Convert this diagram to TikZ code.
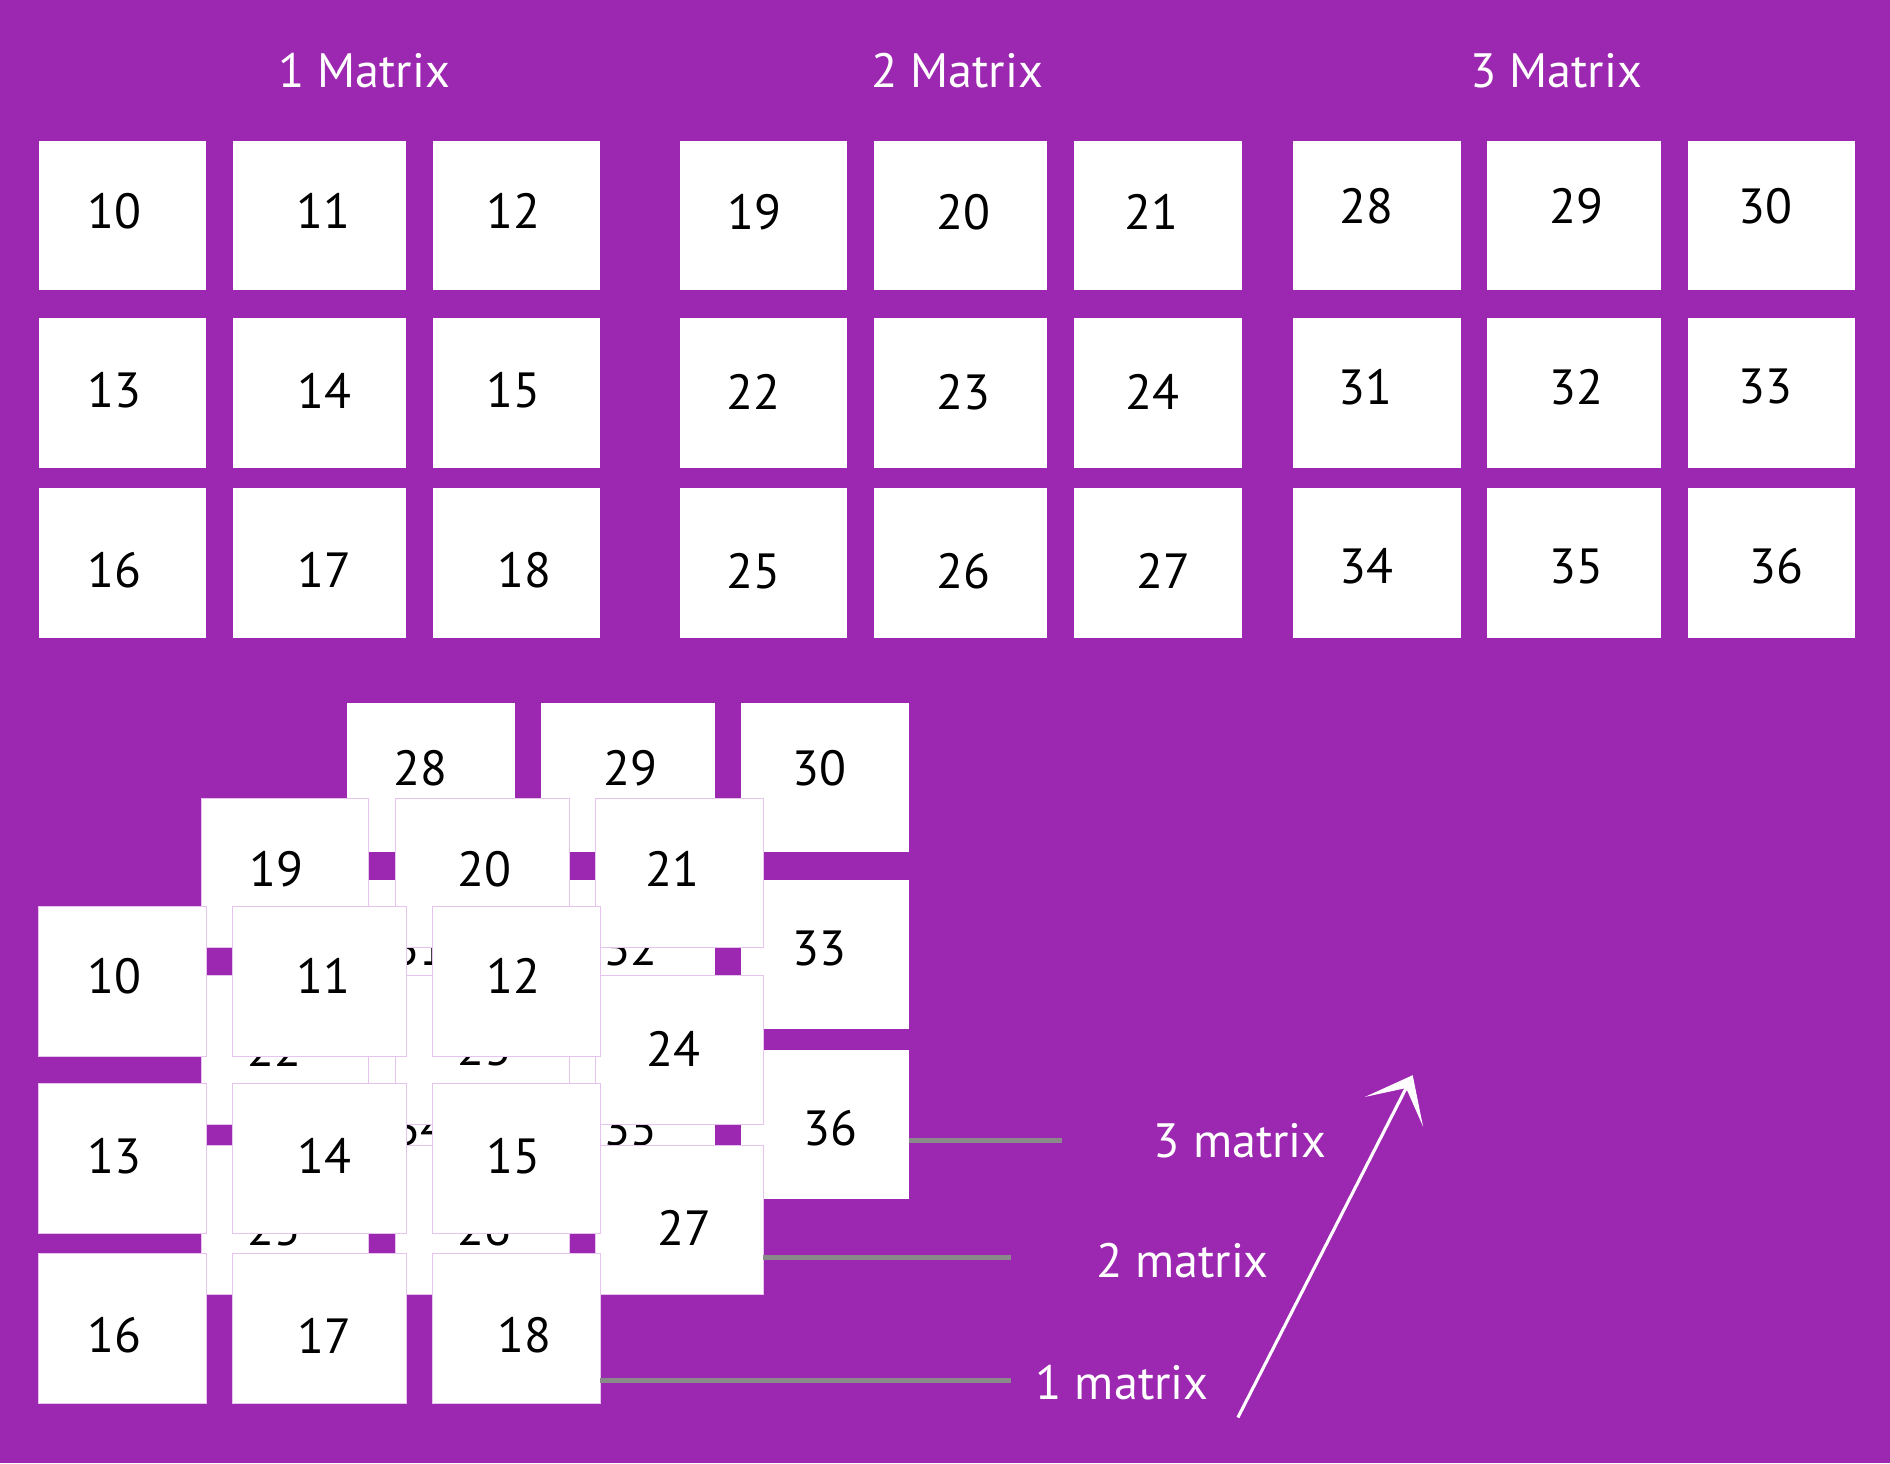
\documentclass[tikz,border=0pt]{standalone}
\usepackage{fontspec}
\setmainfont{PT Sans}
\usetikzlibrary{arrows.meta}
\definecolor{bgpurple}{HTML}{9C27B0}
\definecolor{edgepink}{HTML}{E6C4EE}
\definecolor{linegray}{HTML}{8A8A8A}
\tikzset{
  plainbox/.style={fill=white, draw=none, inner sep=0pt, outer sep=0pt, rectangle},
  edgebox/.style={fill=white, draw=edgepink, line width=0.6pt, inner sep=0pt, outer sep=0pt, rectangle},
  numtext/.style={text=black, inner sep=0pt, font=\fontsize{41}{41}\selectfont},
  titletext/.style={text=white, inner sep=0pt, font=\fontsize{40}{40}\selectfont},
  grayline/.style={draw=linegray, line width=4pt},
}
\newcommand{\matgrid}[5]{%
  \foreach \num/\dx/\dy [count=\i from 0] in #5 {
    \pgfmathtruncatemacro{\rr}{\i/3}
    \pgfmathtruncatemacro{\cc}{mod(\i,3)}
    \pgfmathsetmacro{\bx}{{0,161,327}[\cc]}
    \pgfmathsetmacro{\bw}{{139,144,139}[\cc]}
    \pgfmathsetmacro{\by}{{0,147,288}[\rr]}
    \node[#4, minimum width=\bw pt, minimum height=124pt, anchor=north west] (#1box\num) at (#2+\bx, #3+\by) {};
    \node[numtext] (#1num\num) at (#2+\dx, #3+\dy) {\num};
  }%
}
\def\gonelist{10/63/58,11/236/58,12/394/58,13/63/207,14/237/207,15/394/207,16/63/356,17/237/356,18/403/356}
\def\gtwolist{19/62/59,20/235/59,21/391/59,22/61/208,23/235/208,24/392/208,25/61/357,26/235/357,27/401/357}
\def\gthreelist{28/61/54,29/235/54,30/392/54,31/60/204,32/235/204,33/392/204,34/61/353,35/235/353,36/401/353}
\begin{document}
\begin{tikzpicture}[x=1pt, y=-1pt]
  \fill[bgpurple] (0,0) rectangle (1568,1214);
  \useasboundingbox (0,0) rectangle (1568,1214);
  % titles
  \node[titletext] (t1) at (302,59) {1 Matrix};
  \node[titletext] (t2) at (794,59) {2 Matrix};
  \node[titletext] (t3) at (1291,59) {3 Matrix};
  % top grids
  \matgrid{ga}{32}{117}{plainbox}{\gonelist}
  \matgrid{gb}{564}{117}{plainbox}{\gtwolist}
  \matgrid{gc}{1073}{117}{plainbox}{\gthreelist}
  % stacked layers
  \matgrid{lc}{288}{583}{plainbox}{\gthreelist}
  \matgrid{lb}{167}{662}{edgebox}{\gtwolist}
  \matgrid{la}{32}{752}{edgebox}{\gonelist}
  % leader lines
  \coordinate (e3) at (881,946);
  \coordinate (e2) at (839,1043);
  \coordinate (e1) at (839,1145);
  \draw[grayline] (e3 -| lcbox36.east) -- (e3);
  \draw[grayline] (e2 -| lbbox27.east) -- (e2);
  \draw[grayline] (e1 -| labox18.east) -- (e1);
  \node[titletext] (m3) at (1029,946) {3 matrix};
  \node[titletext] (m2) at (981,1046) {2 matrix};
  \node[titletext] (m1) at (931,1147) {1 matrix};
  % arrow
  \coordinate (arrS) at (1027,1176);
  \coordinate (arrE) at (1172,892);
  \draw[white, line width=2.6pt, -{Stealth[length=34pt, width=54pt, inset=22pt]}] (arrS) -- (arrE);
\end{tikzpicture}
\end{document}
